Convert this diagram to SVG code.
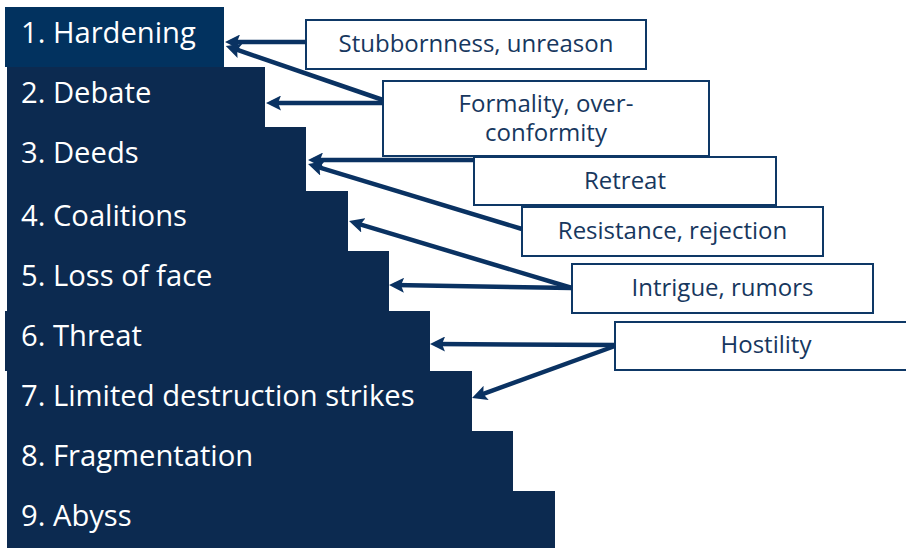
<svg xmlns="http://www.w3.org/2000/svg" width="906" height="548" viewBox="0 0 906 548">
<style>
.step{fill:#0c2a50}
.s1{fill:#02325f}
.st{font-family:"Open Sans","Noto Sans","Liberation Sans",sans-serif;font-size:29.2px;fill:#ffffff}
.box{fill:#ffffff;stroke:#0e3866;stroke-width:2}
.bt{font-family:"Open Sans","Noto Sans","Liberation Sans",sans-serif;font-size:24px;fill:#17375e;text-anchor:middle}
.arr{stroke:#0a3262;stroke-width:4.5;fill:none;marker-end:url(#ah)}
</style>
<defs>
<marker id="ah" markerUnits="userSpaceOnUse" viewBox="0 0 15 15" markerWidth="15" markerHeight="15" refX="9.5" refY="7.5" orient="auto">
<path d="M0,0 L15,7.5 L0,15 L3,7.5 z" fill="#0a3262"/>
</marker>
</defs>
<g id="steps">
<g id="step9"><rect class="step" x="7" y="491" width="548" height="57"/><text class="st" x="21" y="526">9. Abyss</text></g>
<g id="step8"><rect class="step" x="7" y="431" width="506" height="60"/><text class="st" x="21" y="466">8. Fragmentation</text></g>
<g id="step7"><rect class="step" x="7" y="371" width="465" height="60"/><text class="st" x="21" y="406">7. Limited destruction strikes</text></g>
<g id="step6"><rect class="step" x="5" y="311" width="425" height="60"/><text class="st" x="21" y="346">6. Threat</text></g>
<g id="step5"><rect class="step" x="7" y="251" width="382" height="60"/><text class="st" x="21" y="286">5. Loss of face</text></g>
<g id="step4"><rect class="step" x="7" y="191" width="341" height="60"/><text class="st" x="21" y="226">4. Coalitions</text></g>
<g id="step3"><rect class="step" x="7" y="127" width="299" height="64"/><text class="st" x="21" y="163">3. Deeds</text></g>
<g id="step2"><rect class="step" x="7" y="67" width="258" height="60"/><text class="st" x="21" y="103">2. Debate</text></g>
<g id="step1"><rect class="s1" x="5" y="7" width="219" height="60"/><text class="st" x="21" y="43">1. Hardening</text></g>
</g>
<g id="boxes">
<g id="b-stubborn"><rect class="box" x="306" y="20" width="340" height="49"/><text class="bt" x="476" y="52">Stubbornness, unreason</text></g>
<g id="b-formality"><rect class="box" x="383" y="81" width="326" height="75"/><text class="bt" x="546" y="112">Formality, over-</text><text class="bt" x="546" y="141">conformity</text></g>
<g id="b-retreat"><rect class="box" x="474" y="157" width="302" height="48"/><text class="bt" x="625" y="189">Retreat</text></g>
<g id="b-resistance"><rect class="box" x="522" y="207" width="301" height="49"/><text class="bt" x="672.5" y="239">Resistance, rejection</text></g>
<g id="b-intrigue"><rect class="box" x="572" y="264" width="301" height="49"/><text class="bt" x="722.5" y="296">Intrigue, rumors</text></g>
<g id="b-hostility"><rect class="box" x="615" y="322" width="302" height="48"/><text class="bt" x="766" y="353">Hostility</text></g>
</g>
<g id="connectors">
<line class="arr" x1="306" y1="42" x2="230.5" y2="42"/>
<line class="arr" x1="383" y1="100" x2="231" y2="47.7"/>
<line class="arr" x1="383" y1="103" x2="271.5" y2="103"/>
<line class="arr" x1="474" y1="160" x2="313.5" y2="160"/>
<line class="arr" x1="522" y1="229" x2="313.3" y2="165.6"/>
<line class="arr" x1="572" y1="288" x2="354.3" y2="222.6"/>
<line class="arr" x1="572" y1="288" x2="394.5" y2="285.1"/>
<line class="arr" x1="615" y1="345" x2="435.5" y2="344"/>
<line class="arr" x1="615" y1="346" x2="477.2" y2="396.1"/>
</g>
</svg>
